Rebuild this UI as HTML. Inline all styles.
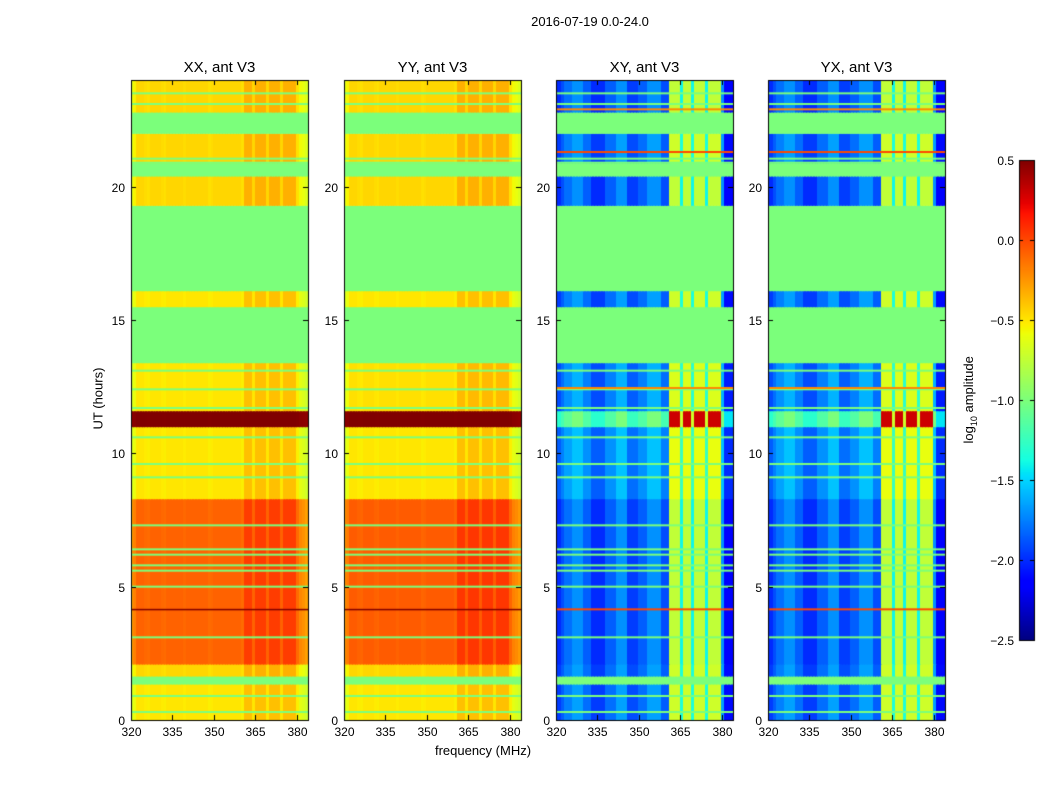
<!DOCTYPE html>
<html><head><meta charset="utf-8"><style>
body{margin:0;background:#fff;width:1050px;height:800px;position:relative;overflow:hidden;font-family:"Liberation Sans",sans-serif;color:#000}
.t{position:absolute;white-space:nowrap}
canvas{position:absolute}
</style></head><body>
<div class="t" style="left:0;width:1180px;text-align:center;top:14px;font-size:13px">2016-07-19 0.0-24.0</div>
<div class="t" style="left:383px;width:200px;text-align:center;top:743px;font-size:13px">frequency (MHz)</div>
<div class="t" style="left:48px;top:391px;width:100px;text-align:center;font-size:13px;transform:rotate(-90deg)">UT (hours)</div>
<div class="t" style="left:910px;top:391px;width:120px;text-align:center;font-size:13px;transform:rotate(-90deg)">log<sub style="font-size:9px">10</sub> amplitude</div>
<canvas id="cv" width="1050" height="800" style="left:0;top:0"></canvas>
<div id="lab"></div>
<script>
// data
const segStart=[0,1.35,1.65,2.1,8.3,11.0,11.6,13.4,15.5,16.1,19.3,20.4,20.9,22.0,22.8];
const segEnd=[1.35,1.65,2.1,8.3,11.0,11.6,13.4,15.5,16.1,19.3,20.4,20.9,22.0,22.8,24];
const xxLevel=[-0.5,null,-0.45,-0.08,-0.5,0.5,-0.5,null,-0.5,null,-0.45,null,-0.45,null,-0.45];
const yyLevel=[-0.5,null,-0.45,-0.06,-0.5,0.5,-0.48,null,-0.5,null,-0.45,null,-0.45,null,-0.45];
const xyLevel=[-1.85,null,-1.85,-1.9,-1.75,-1.2,-1.8,null,-1.85,null,-1.9,null,-1.85,null,-1.9];
const yxLevel=[-1.85,null,-1.85,-1.9,-1.75,-1.2,-1.8,null,-1.85,null,-1.9,null,-1.85,null,-1.9];
const parOffset=[-0.2,-0.1,0,0,0,-0.02,-0.03,0,0,0,0,-0.02,-0.03,0,0,0,0,0,0,-0.02,0,0,0,0,0,0,0,0,-0.03,-0.02,0,0,0,0,0,0,0,0,0,0,-0.03,0.12,0.12,0.12,0,0.12,0.12,0.12,0.12,0,0.12,0.12,0.12,0.12,0,0.12,0.12,0.12,0.12,0.12,-0.03,-0.12,-0.15,-0.2];
const crossOffset=[-0.1,-0.1,0,0.1,0.1,0.1,0.2,0.2,0.2,0.2,0.05,0.05,0.05,-0.1,-0.1,-0.1,-0.1,-0.1,0.05,0.05,0.05,0.05,0.2,0.2,0.2,0.2,-0.05,-0.05,-0.05,-0.05,0.05,0.05,0.05,0.2,0.2,0.2,0.2,0.2,0,0,0,1.15,1.15,1.15,1.15,0.5,1.15,1.15,1.15,0.5,1.15,1.15,1.15,1.15,0.5,1.15,1.15,1.15,1.15,1.15,0.2,-0.25,-0.25,-0.25];
const flagLines=[0.3,0.9,3.1,5.0,5.6,5.8,6.2,6.4,7.3,9.1,9.6,10.6,11.7,12.4,13.1,20.9,21.05,23.1,23.5];
const hotLines=[4.15,12.45,21.3,22.9];
const hotValues=[0.0,-0.2,0.0,-0.2];
const yTicks=[0,5,10,15,20];
const xTicks=[320,335,350,365,380];
const cbTicks=[0.5,0.0,-0.5,-1.0,-1.5,-2.0,-2.5];
const titles=["XX, ant V3","YY, ant V3","XY, ant V3","YX, ant V3"];
const levels=[xxLevel,yyLevel,xyLevel,yxLevel];
const offsets=[parOffset,parOffset,crossOffset,crossOffset];
const panelLeft=[131,344,556,768];
const PW=177,PT=80,PB=720,F0=320,F1=384,VMIN=-2.5,VMAX=0.5;
function interp(t,pts){for(let i=1;i<pts.length;i++){if(t<=pts[i][0]){const a=pts[i-1],b=pts[i];return a[1]+(b[1]-a[1])*(t-a[0])/(b[0]-a[0]);}}return pts[pts.length-1][1];}
const RP=[[0,0],[0.35,0],[0.66,1],[0.89,1],[1,0.5]];
const GP=[[0,0],[0.125,0],[0.375,1],[0.64,1],[0.91,0],[1,0]];
const BP=[[0,0.5],[0.11,1],[0.34,1],[0.65,0],[1,0]];
function jet(v){let t=(v-VMIN)/(VMAX-VMIN);t=Math.max(0,Math.min(1,t));
 const c=x=>Math.round(255*x);
 return `rgb(${c(interp(t,RP))},${c(interp(t,GP))},${c(interp(t,BP))})`;}
const yS=t=>PB-(t/24)*(PB-PT);
const ctx=document.getElementById('cv').getContext('2d');
const lab=document.getElementById('lab');
function addLabel(txt,x,y,name,align){const d=document.createElement('div');d.className='t';d.textContent=txt;
 
 
 d.style.fontSize='12px';d.style.top=(y-7)+'px';
 if(align==='r'){d.style.left=(x-60)+'px';d.style.width='60px';d.style.textAlign='right';}
 else if(align==='c'){d.style.left=(x-30)+'px';d.style.width='60px';d.style.textAlign='center';}
 else d.style.left=x+'px';
 lab.appendChild(d);}
for(let p=0;p<4;p++){
 const L=panelLeft[p],xS=f=>L+(f-F0)/(F1-F0)*PW;
 const lev=levels[p],off=offsets[p];
 for(let s=0;s<segStart.length;s++){
  const y0=yS(segEnd[s]),y1=yS(segStart[s]);
  for(let c=0;c<off.length;c++){
   let v;
   if(lev[s]===null)v=-1.0;
   else if(lev[s]>0.3)v=lev[s]+off[c]*0.2;
   else if(p>=2&&lev[s]>-1.5)v=lev[s]+(off[c]>0.9?1.5:off[c]);
   else v=lev[s]+off[c];
   ctx.fillStyle=jet(v);ctx.fillRect(Math.floor(xS(F0+c)),y0,Math.ceil(xS(F0+c+1))-Math.floor(xS(F0+c)),y1-y0+0.5);
  }
 }
 ctx.fillStyle=jet(-1.0);
 flagLines.forEach(t=>ctx.fillRect(L,yS(t)-1,PW,2));
 if(p>=2){hotLines.forEach((t,i)=>{ctx.fillStyle=jet(hotValues[i]);ctx.fillRect(L,yS(t)-1,PW,2);});}
 else{ctx.fillStyle=jet(0.5);ctx.fillRect(L,yS(4.15)-0.5,PW,1.5);}
 ctx.strokeStyle='#000';ctx.lineWidth=1;ctx.strokeRect(L+0.5,PT+0.5,PW,PB-PT);
 ctx.beginPath();
 yTicks.forEach(t=>{const y=Math.round(yS(t))+0.5;ctx.moveTo(L,y);ctx.lineTo(L+5,y);ctx.moveTo(L+PW,y);ctx.lineTo(L+PW-5,y);addLabel(String(t),L-6,y,'y-tick-label','r');});
 xTicks.forEach(f=>{const x=Math.round(xS(f))+0.5;ctx.moveTo(x,PB);ctx.lineTo(x,PB-5);ctx.moveTo(x,PT);ctx.lineTo(x,PT+5);addLabel(String(f),x,PB+12,'x-tick-label','c');});
 ctx.stroke();
 const d=document.createElement('div');d.className='t';d.textContent=titles[p];
 
 
 d.style.cssText+=`left:${L}px;width:${PW}px;text-align:center;top:59px;font-size:15px`;lab.appendChild(d);
}
// colorbar
const CX=1019,CW=15,CT=160,CB=640;
for(let y=CT;y<CB;y++){ctx.fillStyle=jet(VMAX-(y-CT)/(CB-CT)*(VMAX-VMIN));ctx.fillRect(CX,y,CW,1);}
ctx.strokeStyle='#000';ctx.strokeRect(CX+0.5,CT+0.5,CW,CB-CT);
ctx.beginPath();
cbTicks.forEach(v=>{const y=Math.round(CB-(v-VMIN)/(VMAX-VMIN)*(CB-CT))+0.5;ctx.moveTo(CX+CW,y);ctx.lineTo(CX+CW-4,y);ctx.moveTo(CX,y);ctx.lineTo(CX+4,y);addLabel(v.toFixed(1).replace('-','\u2212'),CX-5,y,'colorbar-tick-label','r');});
ctx.stroke();
</script>
</body></html>
